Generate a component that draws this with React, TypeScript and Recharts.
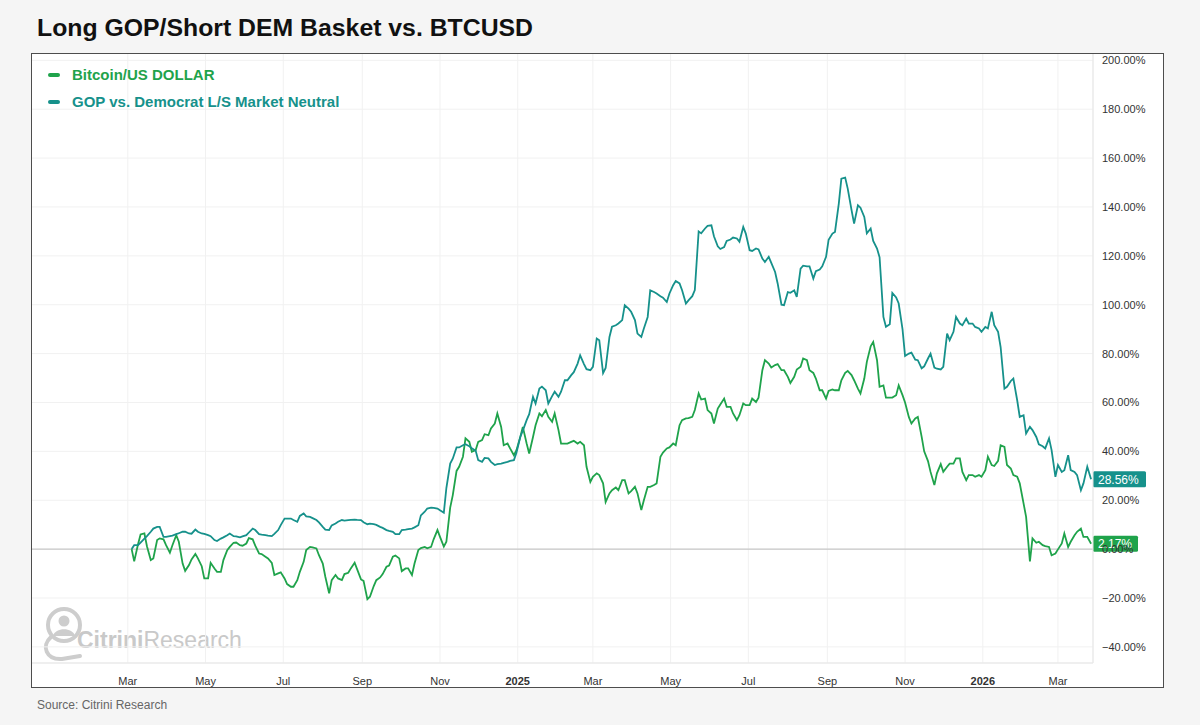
import { LineChart, Line, XAxis, YAxis, CartesianGrid, ReferenceLine } from "recharts";

// samples (percent change since start), roughly every 2-3 days
const dates = [
  "2024-03-04", "2024-03-06", "2024-03-09", "2024-03-11", "2024-03-14", "2024-03-16", "2024-03-19", "2024-03-21", "2024-03-24", "2024-03-26",
  "2024-03-29", "2024-03-31", "2024-04-03", "2024-04-05", "2024-04-08", "2024-04-10", "2024-04-13", "2024-04-15", "2024-04-18", "2024-04-20",
  "2024-04-23", "2024-04-25", "2024-04-28", "2024-04-30", "2024-05-03", "2024-05-05", "2024-05-08", "2024-05-10", "2024-05-13", "2024-05-15",
  "2024-05-18", "2024-05-20", "2024-05-23", "2024-05-25", "2024-05-28", "2024-05-30", "2024-06-02", "2024-06-04", "2024-06-07", "2024-06-09",
  "2024-06-12", "2024-06-14", "2024-06-17", "2024-06-19", "2024-06-22", "2024-06-24", "2024-06-27", "2024-06-29", "2024-07-02", "2024-07-04",
  "2024-07-07", "2024-07-09", "2024-07-12", "2024-07-14", "2024-07-17", "2024-07-19", "2024-07-22", "2024-07-24", "2024-07-27", "2024-07-29",
  "2024-08-01", "2024-08-03", "2024-08-06", "2024-08-08", "2024-08-11", "2024-08-13", "2024-08-16", "2024-08-18", "2024-08-21", "2024-08-23",
  "2024-08-26", "2024-08-28", "2024-08-31", "2024-09-02", "2024-09-05", "2024-09-07", "2024-09-10", "2024-09-12", "2024-09-15", "2024-09-17",
  "2024-09-20", "2024-09-22", "2024-09-25", "2024-09-27", "2024-09-30", "2024-10-02", "2024-10-05", "2024-10-07", "2024-10-10", "2024-10-12",
  "2024-10-15", "2024-10-17", "2024-10-20", "2024-10-22", "2024-10-25", "2024-10-27", "2024-10-30", "2024-11-01", "2024-11-04", "2024-11-06",
  "2024-11-09", "2024-11-11", "2024-11-14", "2024-11-16", "2024-11-19", "2024-11-21", "2024-11-24", "2024-11-26", "2024-11-29", "2024-12-01",
  "2024-12-04", "2024-12-06", "2024-12-09", "2024-12-11", "2024-12-14", "2024-12-16", "2024-12-19", "2024-12-21", "2024-12-24", "2024-12-26",
  "2024-12-29", "2024-12-31", "2025-01-03", "2025-01-05", "2025-01-08", "2025-01-10", "2025-01-13", "2025-01-15", "2025-01-18", "2025-01-20",
  "2025-01-23", "2025-01-25", "2025-01-28", "2025-01-30", "2025-02-02", "2025-02-04", "2025-02-07", "2025-02-09", "2025-02-12", "2025-02-14",
  "2025-02-17", "2025-02-19", "2025-02-22", "2025-02-24", "2025-02-27", "2025-03-01", "2025-03-04", "2025-03-06", "2025-03-09", "2025-03-11",
  "2025-03-14", "2025-03-16", "2025-03-19", "2025-03-21", "2025-03-24", "2025-03-26", "2025-03-29", "2025-03-31", "2025-04-03", "2025-04-05",
  "2025-04-08", "2025-04-10", "2025-04-13", "2025-04-15", "2025-04-18", "2025-04-20", "2025-04-23", "2025-04-25", "2025-04-28", "2025-04-30",
  "2025-05-03", "2025-05-05", "2025-05-08", "2025-05-10", "2025-05-13", "2025-05-15", "2025-05-18", "2025-05-20", "2025-05-23", "2025-05-25",
  "2025-05-28", "2025-05-30", "2025-06-02", "2025-06-04", "2025-06-07", "2025-06-09", "2025-06-12", "2025-06-14", "2025-06-17", "2025-06-19",
  "2025-06-22", "2025-06-24", "2025-06-27", "2025-06-29", "2025-07-02", "2025-07-04", "2025-07-07", "2025-07-09", "2025-07-12", "2025-07-14",
  "2025-07-17", "2025-07-19", "2025-07-22", "2025-07-24", "2025-07-27", "2025-07-29", "2025-08-01", "2025-08-03", "2025-08-06", "2025-08-08",
  "2025-08-11", "2025-08-13", "2025-08-16", "2025-08-18", "2025-08-21", "2025-08-23", "2025-08-26", "2025-08-28", "2025-08-31", "2025-09-02",
  "2025-09-05", "2025-09-07", "2025-09-10", "2025-09-12", "2025-09-15", "2025-09-17", "2025-09-20", "2025-09-22", "2025-09-25", "2025-09-27",
  "2025-09-30", "2025-10-02", "2025-10-05", "2025-10-07", "2025-10-10", "2025-10-12", "2025-10-15", "2025-10-17", "2025-10-20", "2025-10-22",
  "2025-10-25", "2025-10-27", "2025-10-30", "2025-11-01", "2025-11-04", "2025-11-06", "2025-11-09", "2025-11-11", "2025-11-14", "2025-11-16",
  "2025-11-19", "2025-11-21", "2025-11-24", "2025-11-26", "2025-11-29", "2025-12-01", "2025-12-04", "2025-12-06", "2025-12-09", "2025-12-11",
  "2025-12-14", "2025-12-16", "2025-12-19", "2025-12-21", "2025-12-24", "2025-12-26", "2025-12-29", "2025-12-31", "2026-01-03", "2026-01-05",
  "2026-01-08", "2026-01-10", "2026-01-13", "2026-01-15", "2026-01-18", "2026-01-20", "2026-01-23", "2026-01-25", "2026-01-28", "2026-01-30",
  "2026-02-02", "2026-02-04", "2026-02-07", "2026-02-09", "2026-02-12", "2026-02-14", "2026-02-17", "2026-02-19", "2026-02-22", "2026-02-24",
  "2026-02-27", "2026-03-01", "2026-03-04", "2026-03-06", "2026-03-09", "2026-03-11", "2026-03-14", "2026-03-16", "2026-03-19", "2026-03-21",
  "2026-03-24", "2026-03-27",
];

const btc = [
  0, -5.0, 2.0, 6.0, 6.4, 1.2, -4.5, -3.8, 3.7, 4.4,
  4.0, 1.6, -1.5, 1.6, 5.7, 3.0, -5.9, -8.9, -6.5, -4.2,
  -2.0, -3.8, -7.0, -12.0, -12.0, -5.6, -7.9, -9.3, -9.3, -4.5,
  -0.4, 0.9, 2.6, 2.7, 1.6, 1.4, 2.3, 4.5, 4.0, 1.4,
  -1.8, -2.0, -3.1, -3.8, -5.6, -10.6, -9.9, -9.5, -12.0, -14.3,
  -15.4, -15.4, -12.7, -9.3, -5.2, -0.4, 0.9, 0.7, 0.3, -2.5,
  -5.9, -11.3, -18.1, -12.7, -10.6, -12.0, -12.7, -10.2, -9.7, -7.9,
  -5.6, -8.3, -12.4, -13.0, -20.5, -19.5, -15.1, -12.7, -11.6, -10.2,
  -7.2, -6.7, -3.1, -2.6, -3.8, -9.0, -7.9, -7.9, -10.6, -5.9,
  -0.4, 0.4, 0.9, 0.3, 0.9, 4.0, 7.8, 5.0, 1.0, 3.0,
  17.0, 22.0, 32.0, 33.7, 37.8, 45.3, 43.9, 39.8, 40.5, 43.9,
  44.6, 47.0, 46.6, 49.4, 51.4, 55.5, 50.0, 42.5, 43.2, 41.2,
  38.4, 40.5, 45.9, 50.0, 43.2, 39.1, 45.9, 50.7, 55.5, 54.4,
  56.9, 54.1, 52.1, 55.5, 48.7, 43.2, 43.2, 43.2, 43.9, 44.3,
  43.2, 43.9, 42.5, 33.7, 27.5, 29.6, 31.0, 30.3, 26.9, 19.3,
  22.8, 24.1, 25.2, 24.1, 28.2, 28.2, 22.8, 23.7, 25.5, 22.8,
  16.0, 20.0, 25.5, 25.5, 26.2, 26.9, 37.8, 39.5, 41.2, 41.6,
  43.2, 42.5, 50.7, 52.8, 53.5, 53.6, 54.1, 56.9, 63.7, 61.2,
  61.6, 56.9, 55.5, 51.4, 57.5, 59.2, 61.6, 58.2, 58.2, 55.5,
  52.8, 54.8, 59.6, 58.9, 58.9, 61.6, 60.2, 62.0, 73.2, 77.3,
  75.9, 74.3, 75.3, 75.7, 73.2, 73.2, 70.5, 68.0, 70.5, 73.5,
  74.6, 78.0, 77.3, 73.2, 72.1, 69.8, 65.0, 65.0, 61.6, 64.7,
  65.3, 65.0, 65.0, 69.1, 72.1, 72.9, 71.2, 69.1, 65.7, 63.7,
  69.8, 76.6, 83.0, 84.8, 77.3, 66.4, 67.0, 62.0, 62.0, 62.0,
  63.0, 67.0, 63.0, 60.0, 54.0, 51.4, 53.5, 54.1, 46.0, 40.0,
  36.0, 31.6, 26.2, 31.0, 34.8, 31.6, 33.7, 35.0, 35.0, 37.1,
  37.1, 31.6, 28.2, 30.3, 30.3, 29.6, 30.3, 29.6, 32.3, 37.8,
  34.4, 34.0, 36.1, 42.5, 41.8, 34.4, 33.0, 30.3, 29.6, 26.9,
  18.7, 13.2, -5.0, 4.4, 2.6, 3.0, 1.6, 1.2, 0.9, -2.5,
  -1.8, -0.1, 2.3, 6.4, 0.9, 3.0, 5.7, 7.1, 8.4, 5.0,
  5.0, 2.17,
];

const gop = [
  0, 1.6, 1.6, 2.7, 4.3, 5.3, 7.1, 8.4, 9.1, 9.1,
  5.0, 5.0, 5.3, 5.5, 6.1, 6.5, 7.1, 7.1, 6.4, 6.3,
  8.0, 7.1, 6.4, 6.2, 5.7, 5.3, 3.7, 3.3, 4.3, 4.8,
  5.7, 6.4, 5.3, 5.2, 4.8, 5.2, 5.7, 6.8, 8.4, 7.8,
  6.1, 5.9, 5.7, 5.5, 5.3, 6.2, 7.8, 9.8, 12.5, 12.5,
  12.5, 11.9, 11.2, 13.6, 14.6, 13.4, 13.2, 12.7, 11.9, 10.9,
  9.1, 8.0, 7.8, 9.7, 10.5, 11.2, 11.9, 11.7, 11.9, 12.0,
  12.1, 12.0, 11.9, 11.0, 10.2, 10.4, 10.2, 9.9, 9.1, 8.7,
  7.8, 7.5, 7.1, 6.1, 6.1, 7.8, 8.0, 8.2, 8.4, 8.9,
  9.8, 13.8, 15.3, 16.6, 17.0, 16.9, 16.6, 15.9, 14.9, 25.0,
  35.0, 37.0, 41.6, 41.6, 42.5, 42.9, 42.1, 41.3, 40.2, 36.4,
  35.7, 37.3, 37.1, 35.7, 34.4, 34.8, 35.0, 35.3, 35.7, 36.1,
  36.4, 39.4, 45.9, 48.5, 52.8, 55.2, 62.3, 59.6, 65.7, 66.5,
  65.0, 59.6, 62.6, 64.4, 62.3, 64.4, 69.1, 69.1, 71.2, 72.4,
  75.9, 79.3, 75.7, 73.6, 73.2, 74.6, 86.2, 85.5, 72.0, 74.1,
  86.8, 91.0, 91.6, 92.3, 93.7, 99.8, 98.4, 97.1, 93.7, 88.2,
  86.8, 90.3, 95.0, 105.9, 105.2, 104.6, 103.5, 102.9, 101.1, 104.5,
  108.0, 109.7, 108.7, 105.9, 100.5, 101.8, 103.5, 106.0, 130.0, 129.2,
  131.2, 132.3, 132.5, 128.0, 123.9, 122.8, 123.6, 126.1, 126.7, 127.5,
  127.1, 125.8, 131.8, 129.1, 122.3, 122.0, 123.0, 122.6, 118.9, 117.5,
  119.6, 117.1, 113.4, 108.7, 100.0, 99.8, 105.2, 104.9, 105.9, 103.2,
  114.8, 116.0, 115.7, 115.7, 110.7, 113.7, 114.4, 115.7, 119.6, 126.6,
  129.1, 129.8, 141.4, 151.6, 152.0, 147.5, 138.7, 133.2, 140.7, 139.7,
  135.9, 129.2, 131.2, 126.1, 123.0, 119.4, 95.0, 91.0, 92.0, 104.8,
  103.0, 100.5, 90.0, 79.0, 80.0, 80.4, 77.5, 77.3, 74.0, 74.8,
  78.0, 80.0, 74.3, 73.8, 73.5, 74.6, 88.2, 85.5, 88.9, 95.0,
  92.3, 91.6, 94.3, 92.3, 92.3, 90.9, 90.3, 88.9, 90.9, 90.3,
  97.1, 91.6, 88.9, 82.7, 65.7, 66.4, 68.8, 69.8, 60.9, 54.1,
  54.8, 47.3, 50.0, 48.7, 45.9, 42.9, 42.1, 41.2, 45.3, 40.5,
  29.6, 34.4, 31.6, 32.3, 38.4, 32.3, 31.6, 30.3, 24.1, 26.9,
  33.7, 28.56,
];

const tickDates = [
  "2024-03-01", "2024-05-01", "2024-07-01", "2024-09-01", "2024-11-01", "2025-01-01", "2025-03-01",
  "2025-05-01", "2025-07-01", "2025-09-01", "2025-11-01", "2026-01-01", "2026-03-01",
];
const tickLabels = ["Mar", "May", "Jul", "Sep", "Nov", "2025", "Mar", "May", "Jul", "Sep", "Nov", "2026", "Mar"];
const yTicks = [-40, -20, 0, 20, 40, 60, 80, 100, 120, 140, 160, 180, 200];

const BTC_COLOR = "#1fa34b";
const GOP_COLOR = "#16918b";
const FONT = '"Liberation Sans", Arial, Helvetica, sans-serif';

const toMs = (d: string) => Date.parse(d + "T00:00:00Z");
const data = dates.map((d, i) => ({ t: toMs(d), btc: btc[i], gop: gop[i] }));
const xTicks = tickDates.map(toMs);
const xDomain = [Date.UTC(2023, 11, 16), Date.UTC(2026, 2, 28, 12)];

const fmtPct = (v: number) => (v < 0 ? `\u2212${Math.abs(v).toFixed(2)}%` : `${v.toFixed(2)}%`);

function MonthTick(props: any) {
  const { x, y, payload } = props;
  const i = xTicks.indexOf(payload.value);
  const label = tickLabels[i] ?? "";
  const isYear = /^\d{4}$/.test(label);
  return (
    <text x={x} y={y + 14} textAnchor="middle" fontSize={11} fontFamily={FONT} fill="#333" fontWeight={isYear ? 700 : 400}>
      {label}
    </text>
  );
}

const endTag = (color: string, text: string, w: number) => (props: any) => {
  const vb = props.viewBox;
  if (!vb) return null;
  const x = vb.x + vb.width;
  const y = vb.y;
  return (
    <g>
      <rect x={x} y={y - 8} width={w} height={16} fill={color} rx={1.5} />
      <text x={x + 5} y={y + 4.5} fontSize={12} fontFamily={FONT} fill="#fff">
        {text}
      </text>
    </g>
  );
};

function Watermark() {
  return (
    <svg width={220} height={62} style={{ position: "absolute", left: 40, top: 603 }}>
      <g fill="none" stroke="#cdcdcd" strokeWidth={4} strokeLinecap="round">
        <circle cx={24} cy={22} r={16} />
        <path d="M 11 34 C 1 43, 6 57, 22 56 L 40 53" />
      </g>
      <circle cx={24} cy={18} r={5.5} fill="#cdcdcd" />
      <path d="M 13 33 C 15 24, 33 24, 35 33 Z" fill="#cdcdcd" />
      <text x={37} y={45} fontSize={23} fontFamily={FONT} fill="#c9c9c9">
        <tspan fontWeight={700}>Citrini</tspan>
        <tspan>Research</tspan>
      </text>
    </svg>
  );
}

export default function App() {
  return (
    <div style={{ position: "absolute", left: 0, top: 0, width: 1200, height: 725, background: "#f5f5f5", fontFamily: FONT }}>
      <div style={{ position: "absolute", left: 37, top: 14, fontSize: 24.8, fontWeight: 700, color: "#111" }}>
        Long GOP/Short DEM Basket vs. BTCUSD
      </div>

      <div style={{ position: "absolute", left: 31, top: 53, width: 1133, height: 635, background: "#fff" }} />
      <Watermark />

      <div style={{ position: "absolute", left: 31, top: 53 }}>
        <LineChart width={1133} height={635} data={data} margin={{ top: 0, right: 0, bottom: 0, left: 0 }}>
          <CartesianGrid stroke="#f1f1f1" />
          <XAxis
            dataKey="t"
            type="number"
            domain={xDomain}
            allowDataOverflow
            ticks={xTicks}
            tick={<MonthTick />}
            tickLine={false}
            axisLine={{ stroke: "#e6e6e6" }}
            height={25}
            interval={0}
          />
          <YAxis
            orientation="right"
            width={71}
            domain={[-46.6, 203]}
            allowDataOverflow
            ticks={yTicks}
            tickFormatter={fmtPct}
            tick={{ fontSize: 11, fill: "#333", fontFamily: FONT }}
            tickLine={false}
            tickSize={0}
            tickMargin={9}
            axisLine={{ stroke: "#e6e6e6" }}
            interval={0}
          />
          <ReferenceLine y={0} stroke="#bdbdbd" strokeWidth={1} />
          <Line type="linear" dataKey="btc" stroke={BTC_COLOR} strokeWidth={1.8} dot={false} isAnimationActive={false} />
          <Line type="linear" dataKey="gop" stroke={GOP_COLOR} strokeWidth={1.8} dot={false} isAnimationActive={false} />
          <ReferenceLine y={28.56} strokeOpacity={0} label={endTag(GOP_COLOR, "28.56%", 53)} />
          <ReferenceLine y={2.17} strokeOpacity={0} label={endTag(BTC_COLOR, "2.17%", 45)} />
        </LineChart>
      </div>

      <div style={{ position: "absolute", left: 31, top: 53, width: 1133, height: 635, border: "1.5px solid #4d4d4d", boxSizing: "border-box", pointerEvents: "none" }} />

      <div style={{ position: "absolute", left: 48, top: 65, fontSize: 15, fontWeight: 700, lineHeight: "20px" }}>
        {[
          { name: "Bitcoin/US DOLLAR", color: BTC_COLOR },
          { name: "GOP vs. Democrat L/S Market Neutral", color: GOP_COLOR },
        ].map((s, i) => (
          <div key={s.name} style={{ display: "flex", alignItems: "center", marginTop: i === 0 ? 0 : 7, color: s.color }}>
            <span style={{ display: "inline-block", width: 12, height: 3.5, borderRadius: 2, background: s.color, marginRight: 12 }} />
            {s.name}
          </div>
        ))}
      </div>

      <div style={{ position: "absolute", left: 37, top: 698, fontSize: 12, color: "#666" }}>Source: Citrini Research</div>
    </div>
  );
}
